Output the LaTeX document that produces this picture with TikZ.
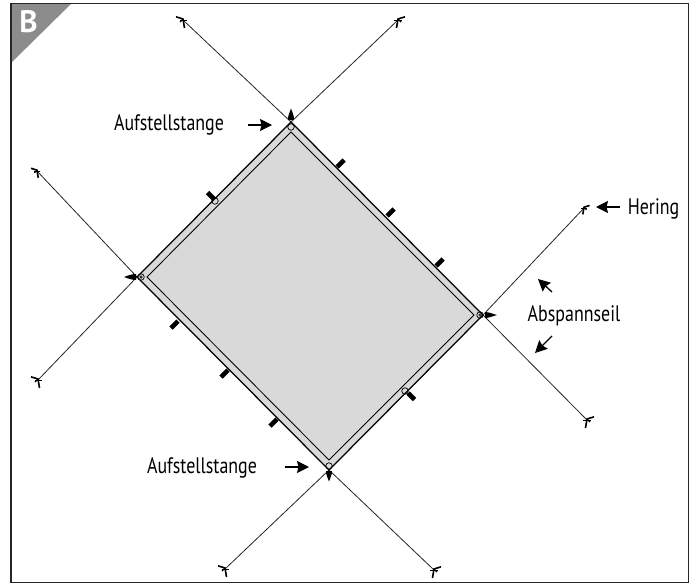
\documentclass[tikz,border=0pt]{standalone}
\usepackage{fontspec}
\setmainfont[FakeStretch=0.80]{PT Sans}
\newfontfamily\boldlabel{PT Sans Bold}
\usetikzlibrary{arrows.meta,calc}
\definecolor{tarp}{gray}{0.85}
\definecolor{corner}{gray}{0.55}
\tikzset{
  x=1pt,y=-1pt,
  frame/.style={draw=black!85,line width=1.3pt},
  tarpouter/.style={draw=black,line width=1.25pt,fill=tarp,line join=miter},
  tarpinner/.style={draw=black,line width=0.85pt,line join=miter},
  rope/.style={draw=black!85,line width=0.8pt},
  ring/.style={circle,draw=black,fill=none,line width=0.7pt,inner sep=0pt,minimum size=6.5pt},
  dotring/.style={circle,draw=black,fill=none,line width=0.7pt,inner sep=0pt,minimum size=2.5pt},
  tab/.style={draw=black,line width=4.6pt},
  spike/.style={fill=black,draw=none},
  lbl/.style={font=\fontsize{22.4}{24}\selectfont,text=black,inner sep=0pt,anchor=center},
  pointer/.style={draw=black,line width=1.3pt,-{Stealth[length=12pt,width=12pt,inset=1.5pt]}},
  hering/.pic={
    \draw[black,line width=0.7pt] (-4,0) -- (3.5,0);
    \draw[black,line width=1.6pt] (-1.5,8) -- (0,-1) -- (7,-3.2);
    \draw[black,line width=1.2pt] (0,-1) -- (3,2);
  }
}
\begin{document}
\begin{tikzpicture}
\useasboundingbox (0,0) rectangle (690,584);
\fill[white] (0,0) rectangle (690,584);

% corner flag
\fill[corner] (11,3) -- (72,3) -- (11,63) -- cycle;
\draw[frame] (11,3.5) rectangle (688.5,582.5);
\node[inner sep=0pt,text=white,font=\boldlabel\fontsize{31}{32}\selectfont] (letter) at (28.5,21.5) {B};

% tarp
\coordinate (T) at (291,122);
\coordinate (L) at (137,277);
\coordinate (R) at (483,315);
\coordinate (B) at (329,470);
\coordinate (iT) at (291,132);
\coordinate (iL) at (147,277);
\coordinate (iR) at (474,315);
\coordinate (iB) at (329,460);

% guy lines
\coordinate (pTL) at (183,20);
\coordinate (pTR) at (398,20);
\coordinate (pLU) at (37,171);
\coordinate (pLD) at (38,380);
\coordinate (pRU) at (584,208);
\coordinate (pRD) at (587,420);
\coordinate (pBL) at (225,569);
\coordinate (pBR) at (434,570);
\draw[rope] (T) -- (pTL);
\draw[rope] (T) -- (pTR);
\draw[rope] (L) -- (pLU);
\draw[rope] (L) -- (pLD);
\draw[rope] (R) -- (pRU);
\draw[rope] (R) -- (pRD);
\draw[rope] (B) -- (pBL);
\draw[rope] (B) -- (pBR);

% side tabs
\foreach \x/\y in {341/163,391/212,440/262}
  \draw[tab] (\x-4,\y+4) -- (\x+3,\y-3);
\foreach \x/\y in {174/325,224/374,273/423}
  \draw[tab] (\x+4,\y-4) -- (\x-3,\y+3);
\draw[tab] (214,199) -- (207.5,192.5);
\draw[tab] (408,393) -- (414.5,399.5);

\path[tarpouter] (T) -- (R) -- (B) -- (L) -- cycle;
\draw[tarpinner] (iT) -- (iR) -- (iB) -- (iL) -- cycle;

% corner spikes
\fill[spike] (288,120) .. controls (287.8,115) and (290,112) .. (291,108.5)
  .. controls (292,112) and (294.2,115) .. (294,120) -- cycle;
\fill[spike] (329,481.5) .. controls (328,478) and (325.8,475) .. (326,471)
  -- (332,471) .. controls (332.2,475) and (330,478) .. (329,481.5) -- cycle;
\fill[spike] (136,274) .. controls (132,274) and (128,275.5) .. (124,277)
  .. controls (128,278.5) and (132,280) .. (136,280) -- cycle;
\fill[spike] (485,312) .. controls (489,312) and (493,314) .. (497,315)
  .. controls (493,316) and (489,318) .. (485,318) -- cycle;

% rings
\node[ring] (rT) at (291,127) {};
\node[ring] (rL) at (141,277) {};
\node[dotring] (dL) at (141,277) {};
\node[ring] (rR) at (480,315) {};
\node[dotring] (dR) at (480,315) {};
\node[ring] (rB) at (329,466) {};
\node[ring] (rS1) at (215,201) {};
\node[ring] (rS2) at (405,391) {};

% pegs
\pic at (pTR) {hering};
\pic[scale=0.8] at (pRU) {hering};
\pic at (pRD) {hering};
\pic at (pBR) {hering};
\pic[xscale=-1] at (pTL) {hering};
\pic[xscale=-1,scale=0.85] at (pLU) {hering};
\pic[xscale=-1] at (pLD) {hering};
\pic[xscale=-1] at (pBL) {hering};

% labels
\node[lbl] (a1) at (169,124.5) {Aufstellstange};
\node[lbl] (a2) at (202,467.5) {Aufstellstange};
\node[lbl] (h) at (653.5,208.5) {Hering};
\node[lbl] (s) at (574,315.5) {Abspannseil};

% pointers
\coordinate (a1t) at (248,125);
\coordinate (a1h) at (272,125);
\coordinate (a2t) at (285,467);
\coordinate (a2h) at (309,467);
\coordinate (ht) at (620,207);
\coordinate (hh) at (596,207);
\coordinate (s1t) at (552,292);
\coordinate (s1h) at (538,279);
\coordinate (s2t) at (552,336);
\coordinate (s2h) at (535,353);
\draw[pointer] (a1t) -- (a1h);
\draw[pointer] (a2t) -- (a2h);
\draw[pointer] (ht) -- (hh);
\draw[pointer] (s1t) -- (s1h);
\draw[pointer] (s2t) -- (s2h);
\end{tikzpicture}
\end{document}
